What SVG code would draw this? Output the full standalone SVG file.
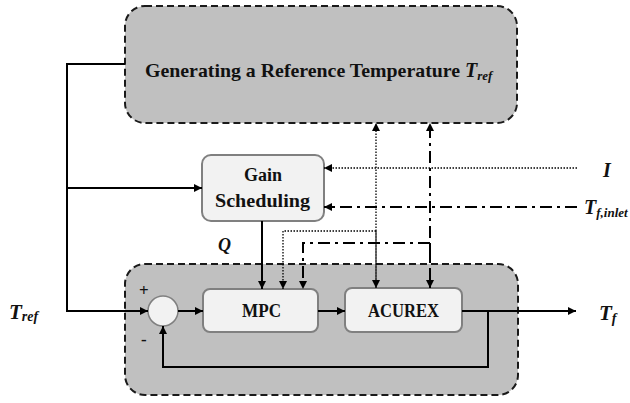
<svg xmlns="http://www.w3.org/2000/svg" width="630" height="403" viewBox="0 0 630 403">
<defs>
<marker id="ah" viewBox="0 0 10 10" refX="10" refY="5" markerWidth="8" markerHeight="8" markerUnits="userSpaceOnUse" orient="auto">
<path d="M0,0 L10,5 L0,10 z" fill="#000"/>
</marker>
</defs>
<style>
.grp{fill:#c0c0c0;stroke:#1a1a1a;stroke-width:2;stroke-dasharray:7,4}
.blk{fill:#f2f2f2;stroke:#808080;stroke-width:2}
.t{font-family:"Liberation Serif","DejaVu Serif",serif;font-weight:bold;fill:#111}
.ti{font-family:"Liberation Serif","DejaVu Serif",serif;font-weight:bold;font-style:italic;fill:#111}
.s{fill:none;stroke:#000;stroke-width:2}
.dot{fill:none;stroke:#000;stroke-width:1.3;stroke-dasharray:1.5,1.5}
.dd{fill:none;stroke:#000;stroke-width:2;stroke-dasharray:12,5,3,5}
</style>
<rect width="630" height="403" fill="#fff"/>
<g id="ref-generator">
<rect class="grp" x="125" y="6" width="392" height="117" rx="20"/>
<text class="t" x="145" y="77" font-size="19"><tspan textLength="320" lengthAdjust="spacingAndGlyphs">Generating a Reference Temperature </tspan><tspan class="ti" font-size="20">T</tspan><tspan class="ti" font-size="13" dy="3">ref</tspan></text>
</g>
<g id="control-loop">
<rect class="grp" x="125" y="264" width="393" height="131" rx="20"/>
</g>
<g id="gain-scheduling">
<rect class="blk" x="202" y="155" width="122" height="66" rx="9"/>
<text class="t" x="263" y="181" font-size="18" text-anchor="middle">Gain</text>
<text class="t" x="215" y="207" font-size="18" textLength="95" lengthAdjust="spacingAndGlyphs">Scheduling</text>
</g>
<g id="sum">
<circle cx="163" cy="311" r="15" fill="#f2f2f2" stroke="#808080" stroke-width="1.5"/>
</g>
<g id="mpc">
<rect class="blk" x="203" y="289" width="115" height="43" rx="7"/>
<text class="t" x="242" y="317" font-size="19" textLength="39" lengthAdjust="spacingAndGlyphs">MPC</text>
</g>
<g id="acurex">
<rect class="blk" x="345" y="288" width="117" height="44" rx="7"/>
<text class="t" x="368" y="317" font-size="19" textLength="71" lengthAdjust="spacingAndGlyphs">ACUREX</text>
</g>
<g id="connectors">
<polyline class="s" points="125,64 67,64 67,311 148,311" marker-end="url(#ah)"/>
<line class="s" x1="67" y1="188" x2="202" y2="188" marker-end="url(#ah)"/>
<line class="s" x1="178" y1="311" x2="203" y2="311" marker-end="url(#ah)"/>
<line class="s" x1="318" y1="311" x2="345" y2="311" marker-end="url(#ah)"/>
<line class="s" x1="462" y1="311" x2="576" y2="311" marker-end="url(#ah)"/>
<polyline class="s" points="488,311 488,367 163,367 163,326" marker-end="url(#ah)"/>
<line class="s" x1="262" y1="221" x2="262" y2="289" marker-end="url(#ah)"/>
<line class="dot" x1="577" y1="168" x2="324" y2="168" marker-end="url(#ah)"/>
<line class="dd" x1="577" y1="207" x2="324" y2="207" marker-end="url(#ah)"/>
<line class="dot" x1="376" y1="288" x2="376" y2="123" marker-end="url(#ah)"/>
<line class="dd" x1="430" y1="288" x2="430" y2="123" marker-end="url(#ah)"/>
<polyline class="dot" points="376,231 283,231 283,289" marker-end="url(#ah)"/>
<polyline class="dd" points="430,243 303,243 303,289" marker-end="url(#ah)"/>
<line class="dot" x1="376" y1="231" x2="376" y2="288" marker-end="url(#ah)"/>
<line class="dd" x1="430" y1="243" x2="430" y2="288" marker-end="url(#ah)"/>
</g>
<g id="labels">
<text class="ti" x="9" y="319" font-size="21">T<tspan font-size="14" dy="2">ref</tspan></text>
<text class="t" x="139" y="296" font-size="17">+</text>
<text class="t" x="141" y="345" font-size="17">-</text>
<text class="ti" x="218" y="251" font-size="18">Q</text>
<text class="ti" x="603" y="177" font-size="20">I</text>
<text class="ti" x="584" y="214" font-size="20">T<tspan font-size="13" dy="3">f,inlet</tspan></text>
<text class="ti" x="599" y="320" font-size="21">T<tspan font-size="14" dy="3">f</tspan></text>
</g>
</svg>
